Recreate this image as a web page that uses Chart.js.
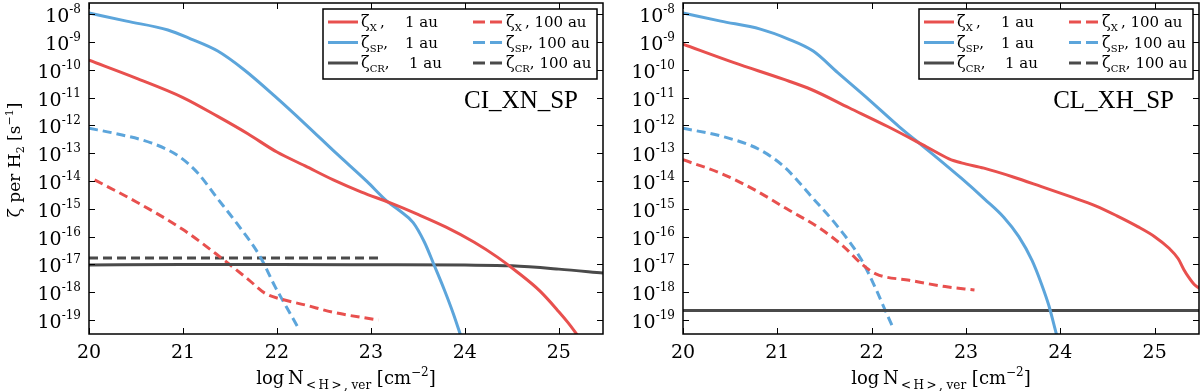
<!DOCTYPE html>
<html>
<head>
<meta charset="utf-8">
<script src="https://cdn.jsdelivr.net/npm/chart.js@4.4.0/dist/chart.umd.min.js"></script>
<style>
  body { margin: 0; background: #fff; }
  #wrap { position: relative; width: 1200px; height: 391px; }
  canvas { position: absolute; top: 0; }
</style>
</head>
<body>
<div id="wrap">
  <canvas id="leftChart" width="610" height="391" style="left:0"></canvas>
  <canvas id="rightChart" width="590" height="391" style="left:610px"></canvas>
</div>
<script>
// axis ticks
const xTickValues = [20, 21, 22, 23, 24, 25];
const yTickExponents = [-8, -9, -10, -11, -12, -13, -14, -15, -16, -17, -18, -19];

// CI_XN_SP panel: log N and ionisation rate per H2
const ciX1auN = [20, 20.5, 21.0, 21.37, 21.69, 22.0, 22.3, 22.6, 22.9, 23.2, 23.5, 23.8, 24.1, 24.35, 24.55, 24.8, 25.0, 25.1, 25.2, 25.3];
const ciX1auZeta = [2.2e-10, 5.0e-11, 1.0e-11, 2.1e-12, 5.0e-13, 1.1e-13, 3.5e-14, 1.1e-14, 4.0e-15, 1.66e-15, 6.3e-16, 2.2e-16, 6.3e-17, 1.8e-17, 5.6e-18, 1.1e-18, 2.0e-19, 7.9e-20, 2.8e-20, 1e-20];
const ciSP1auN = [20, 20.4, 20.84, 21.08, 21.37, 21.65, 21.98, 22.31, 22.63, 22.96, 23.17, 23.3, 23.45, 23.57, 23.67, 23.78, 23.88, 23.96];
const ciSP1auZeta = [1.1e-8, 5.6e-9, 2.7e-9, 1.3e-9, 4.7e-10, 1.0e-10, 1.1e-11, 1.05e-12, 1.0e-13, 9.5e-15, 1.9e-15, 8.9e-16, 3.2e-16, 6.3e-17, 1.0e-17, 1.26e-18, 1.6e-19, 2.5e-20];
const ciCR1auN = [20, 21, 22, 23, 24, 24.5, 25, 25.47];
const ciCR1auZeta = [9.5e-18, 1.0e-17, 1.0e-17, 9.8e-18, 9.5e-18, 8.9e-18, 6.8e-18, 4.9e-18];
const ciX100auN = [20.06, 20.5, 21.0, 21.4, 21.7, 21.88, 22.05, 22.3, 22.6, 23.08];
const ciX100auZeta = [1.1e-14, 1.8e-15, 1.8e-16, 1.8e-17, 2.8e-18, 8.9e-19, 5.6e-19, 3.5e-19, 1.9e-19, 1.0e-19];
const ciSP100auN = [20, 20.27, 20.67, 20.96, 21.16, 21.35, 21.57, 21.82, 21.98, 22.1, 22.22];
const ciSP100auZeta = [7.9e-13, 5.2e-13, 2.3e-13, 7.6e-14, 1.9e-14, 2.8e-15, 3.1e-16, 1.95e-17, 1.6e-18, 3.0e-19, 5.8e-20];
const ciCR100auN = [20, 23.1];
const ciCR100auZeta = [1.7e-17, 1.7e-17];

// CL_XH_SP panel
const clX1auN = [20, 20.54, 21.07, 21.36, 21.76, 22.17, 22.58, 22.82, 22.95, 23.19, 23.5, 23.8, 24.1, 24.38, 24.6, 24.82, 25.0, 25.15, 25.25, 25.31, 25.36, 25.42, 25.47];
const clX1auZeta = [8.3e-10, 1.8e-10, 4.5e-11, 1.95e-11, 4.3e-12, 9.1e-13, 1.7e-13, 6.3e-14, 4.5e-14, 2.9e-14, 1.4e-14, 6.3e-15, 2.8e-15, 1.26e-15, 5.6e-16, 2.3e-16, 1.0e-16, 3.9e-17, 1.6e-17, 6.5e-18, 3.5e-18, 1.9e-18, 1.4e-18];
const clSP1auN = [20, 20.4, 20.82, 21.11, 21.38, 21.64, 21.97, 22.29, 22.62, 22.95, 23.2, 23.4, 23.56, 23.7, 23.8, 23.88, 23.95, 24.0];
const clSP1auZeta = [1.1e-8, 5.6e-9, 2.9e-9, 1.3e-9, 4.7e-10, 7.9e-11, 8.5e-12, 9.1e-13, 1.1e-13, 1.26e-14, 2.2e-15, 5.0e-16, 1.0e-16, 1.4e-17, 2.0e-18, 3.2e-19, 4.0e-20, 1e-20];
const clCR1auN = [20, 25.47];
const clCR1auZeta = [2.2e-19, 2.2e-19];
const clX100auN = [20, 20.4, 20.75, 21.1, 21.45, 21.7, 21.9, 22.05, 22.4, 22.78, 23.09];
const clX100auZeta = [5.8e-14, 1.9e-14, 5.0e-15, 1.0e-15, 2.0e-16, 4.5e-17, 1.0e-17, 4.5e-18, 2.7e-18, 1.6e-18, 1.2e-18];
const clSP100auN = [20, 20.42, 20.82, 21.07, 21.27, 21.36, 21.64, 21.89, 22.05, 22.14, 22.23];
const clSP100auZeta = [7.9e-13, 4.0e-13, 1.3e-13, 3.3e-14, 6.3e-15, 2.8e-15, 2.3e-16, 1.5e-17, 1.2e-18, 2.4e-19, 5.0e-20];
const clCR100auN = [20, 23.1];
const clCR100auZeta = [2.2e-19, 2.2e-19];

const seriesSymbols = ['X', 'SP', 'CR'];
const seriesColors = ['#e8504e', '#5ca5db', '#4a4a4a'];
const distances = ['1 au', '100 au'];

const SERIF = '"DejaVu Serif", serif';

function pts(n, z) {
  return n.map((v, i) => ({ x: v, y: z[i] }));
}

function makeDatasets(list) {
  // list order: X 1au, SP 1au, CR 1au, X 100au, SP 100au, CR 100au
  return list.map((d, i) => ({
    label: 'ζ' + seriesSymbols[i % 3] + ', ' + distances[Math.floor(i / 3)],
    data: pts(d[0], d[1]),
    borderColor: seriesColors[i % 3],
    borderWidth: 3,
    borderDash: i >= 3 ? [9, 5] : [],
    pointRadius: 0,
    cubicInterpolationMode: 'monotone',
    fill: false
  }));
}

function drawRich(ctx, parts, x, y, align) {
  let total = 0;
  parts.forEach(p => {
    ctx.font = p.size + 'px ' + (p.family || SERIF);
    p.w = ctx.measureText(p.t).width;
    total += p.w;
  });
  let cx = align === 'right' ? x - total : align === 'center' ? x - total / 2 : x;
  ctx.textAlign = 'left';
  parts.forEach(p => {
    ctx.font = p.size + 'px ' + (p.family || SERIF);
    ctx.fillText(p.t, cx, y + (p.dy || 0));
    cx += p.w;
  });
  return total;
}

const framePlugin = {
  id: 'frame',
  afterDatasetsDraw(chart, args, opts) {
    const ctx = chart.ctx;
    const a = chart.chartArea;
    const xs = chart.scales.x, ys = chart.scales.y;
    ctx.save();
    ctx.fillStyle = '#000';
    ctx.strokeStyle = '#000';

    // inward ticks on all four sides
    ctx.lineWidth = 1;
    ctx.beginPath();
    xTickValues.forEach(v => {
      const px = Math.round(xs.getPixelForValue(v)) + 0.5;
      ctx.moveTo(px, a.bottom); ctx.lineTo(px, a.bottom - 6);
      ctx.moveTo(px, a.top); ctx.lineTo(px, a.top + 6);
    });
    yTickExponents.forEach(e => {
      const py = Math.round(ys.getPixelForValue(Math.pow(10, e))) + 0.5;
      ctx.moveTo(a.left, py); ctx.lineTo(a.left + 6, py);
      ctx.moveTo(a.right, py); ctx.lineTo(a.right - 6, py);
    });
    ctx.stroke();

    // tick labels
    ctx.textBaseline = 'alphabetic';
    xTickValues.forEach(v => {
      drawRich(ctx, [{ t: String(v), size: 19 }], xs.getPixelForValue(v), 358, 'center');
    });
    yTickExponents.forEach(e => {
      const py = ys.getPixelForValue(Math.pow(10, e));
      drawRich(ctx, [{ t: '10', size: 19 }, { t: String(e), size: 12, dy: -9 }], a.left - 8, py + 8, 'right');
    });

    // x title
    const cxm = (a.left + a.right) / 2;
    drawRich(ctx, [
      { t: 'log\u2009N', size: 18 },
      { t: '\u2009<\u2009H\u2009>\u2009, ver', size: 12, dy: 5 },
      { t: ' [cm', size: 18 },
      { t: '\u22122', size: 12, dy: -8 },
      { t: ']', size: 18 }
    ], cxm, 384, 'center');

    // y title
    if (opts.yTitle) {
      ctx.save();
      ctx.translate(20, 160);
      ctx.rotate(-Math.PI / 2);
      drawRich(ctx, [
        { t: 'ζ per H', size: 17 },
        { t: '2', size: 11, dy: 4 },
        { t: ' [s', size: 17 },
        { t: '\u22121', size: 11, dy: -7 },
        { t: ']', size: 17 }
      ], 0, 0, 'center');
      ctx.restore();
    }

    // panel label
    drawRich(ctx, [{ t: opts.label, size: 25, family: '"Liberation Serif", serif' }], a.right - 25, 108, 'right');

    // legend box
    const bx = a.right - 280, by = a.top + 6, bw = 274, bh = 70;
    ctx.fillStyle = '#fff';
    ctx.fillRect(bx, by, bw, bh);
    ctx.lineWidth = 1.5;
    ctx.strokeRect(bx, by, bw, bh);
    const ds = chart.data.datasets;
    for (let col = 0; col < 2; col++) {
      for (let row = 0; row < 3; row++) {
        const d = ds[col * 3 + row];
        const cy = by + 13 + row * 20.5;
        const lx = bx + (col === 0 ? 5 : 150);
        ctx.strokeStyle = d.borderColor;
        ctx.lineWidth = 3;
        ctx.setLineDash(col === 0 ? [] : [12, 5]);
        ctx.beginPath();
        ctx.moveTo(lx, cy); ctx.lineTo(lx + 30, cy);
        ctx.stroke();
        ctx.setLineDash([]);
        ctx.fillStyle = '#000';
        const tx = lx + 33;
        const sym = seriesSymbols[row];
        const w = drawRich(ctx, [
          { t: 'ζ', size: 16 },
          { t: sym + (sym === 'X' ? ' ' : ''), size: 10, dy: 4 },
          { t: ',', size: 15 }
        ], tx, cy + 5, 'left');
        if (col === 0) {
          drawRich(ctx, [{ t: distances[0], size: 15 }], bx + (row === 2 ? 86 : 82), cy + 5, 'left');
        } else {
          drawRich(ctx, [{ t: ' ' + distances[1], size: 15 }], tx + w, cy + 5, 'left');
        }
      }
    }
    ctx.strokeStyle = '#000';
    ctx.lineWidth = 1.5;
    ctx.strokeRect(a.left, a.top, a.right - a.left, a.bottom - a.top);
    ctx.restore();
  }
};

function makeChart(id, datasets, yAxisWidth, rightPad, opts) {
  return new Chart(document.getElementById(id), {
    type: 'line',
    data: { datasets: datasets },
    options: {
      responsive: false,
      animation: false,
      layout: { padding: { left: 0, right: rightPad, top: 3, bottom: 0 } },
      plugins: {
        legend: { display: false },
        tooltip: { enabled: false },
        frame: opts
      },
      scales: {
        x: {
          type: 'linear', min: 20, max: 25.47,
          grid: { display: false }, border: { display: false },
          ticks: { display: false },
          afterFit: s => { s.height = 57; }
        },
        y: {
          type: 'logarithmic', min: Math.pow(10, -19.5), max: Math.pow(10, -7.6),
          grid: { display: false }, border: { display: false },
          ticks: { display: false },
          afterFit: s => { s.width = yAxisWidth; }
        }
      }
    },
    plugins: [framePlugin]
  });
}

makeChart('leftChart', makeDatasets([
  [ciX1auN, ciX1auZeta], [ciSP1auN, ciSP1auZeta], [ciCR1auN, ciCR1auZeta],
  [ciX100auN, ciX100auZeta], [ciSP100auN, ciSP100auZeta], [ciCR100auN, ciCR100auZeta]
]), 89, 7, { label: 'CI_XN_SP', yTitle: true });

makeChart('rightChart', makeDatasets([
  [clX1auN, clX1auZeta], [clSP1auN, clSP1auZeta], [clCR1auN, clCR1auZeta],
  [clX100auN, clX100auZeta], [clSP100auN, clSP100auZeta], [clCR100auN, clCR100auZeta]
]), 73, 1, { label: 'CL_XH_SP', yTitle: false });
</script>
</body>
</html>
